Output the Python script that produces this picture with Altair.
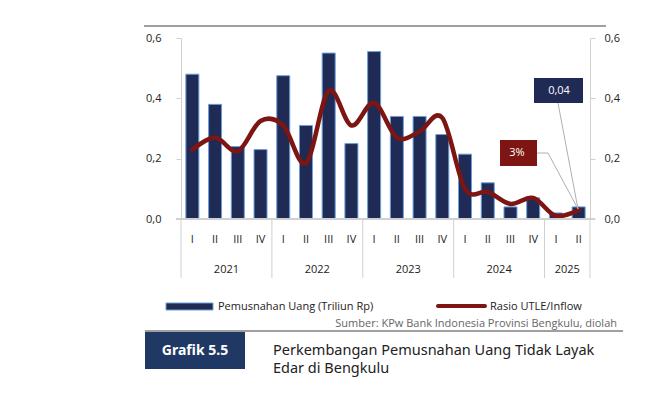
import altair as alt
import pandas as pd

# ---- data ----
years = [2021, 2021, 2021, 2021, 2022, 2022, 2022, 2022, 2023, 2023, 2023, 2023,
         2024, 2024, 2024, 2024, 2025, 2025]
quarters = ["I", "II", "III", "IV", "I", "II", "III", "IV", "I", "II", "III", "IV",
            "I", "II", "III", "IV", "I", "II"]
pemusnahan = [0.48, 0.38, 0.24, 0.23, 0.475, 0.31, 0.55, 0.25, 0.555, 0.34, 0.34, 0.28,
              0.215, 0.12, 0.04, 0.07, 0.02, 0.04]
rasio = [0.23, 0.27, 0.225, 0.325, 0.31, 0.185, 0.425, 0.31, 0.385, 0.27, 0.29, 0.335,
         0.10, 0.09, 0.05, 0.07, 0.01, 0.03]
y_ticks = [0, 0.2, 0.4, 0.6]

cats = [f"{y}-{q}" for y, q in zip(years, quarters)]
df = pd.DataFrame({"cat": cats, "year": years, "q": quarters,
                   "pemusnahan": pemusnahan, "rasio": rasio})

uyears = sorted(set(years))
year_rows, sep_rows = [], []
for yr in uyears:
    idx = [i for i, y in enumerate(years) if y == yr]
    year_rows.append({"cat": cats[idx[len(idx) // 2]], "label": str(yr)})
    sep_rows.append({"cat": cats[idx[0]]})
ydf = pd.DataFrame(year_rows)
sdf = pd.DataFrame(sep_rows)
edf = pd.DataFrame({"cat": [cats[-1]]})

W, H = 409, 181
NAVY = "#1f2a55"
RED = "#7d1512"
GRAY = "#d0d0d0"
FONT = "Open Sans"

xscale = alt.Scale(domain=cats, paddingInner=0, paddingOuter=0)
X = alt.X("cat:N", scale=xscale, axis=None)

label_expr = "replace(format(datum.value, '.1f'), '.', ',')"

base = alt.Chart(df)

bars = base.mark_bar(size=13, color=NAVY, stroke="#6a9fdc", strokeWidth=1).encode(
    x=X,
    y=alt.Y("pemusnahan:Q", scale=alt.Scale(domain=[0, 0.6], nice=False),
            axis=alt.Axis(orient="left", values=y_ticks, labelExpr=label_expr, grid=False,
                          domainColor=GRAY, tickColor=GRAY, tickSize=5, labelPadding=15,
                          labelFont=FONT, labelFontSize=11, labelColor="#222", title=None)),
)

line = base.mark_line(color=RED, strokeWidth=4.5, interpolate="cardinal", strokeCap="round").encode(
    x=X,
    y=alt.Y("rasio:Q", scale=alt.Scale(domain=[0, 0.6], nice=False),
            axis=alt.Axis(orient="right", values=y_ticks, labelExpr=label_expr, grid=False,
                          domainColor=GRAY, tickColor=GRAY, tickSize=5, labelPadding=9,
                          labelFont=FONT, labelFontSize=11, labelColor="#222", title=None)),
)

baseline = alt.Chart(df).mark_rule(color=GRAY, strokeWidth=1).encode(
    x=alt.value(-5), x2=alt.value(W + 5), y=alt.value(H))

seps = alt.Chart(sdf).mark_rule(color=GRAY, strokeWidth=1).encode(
    x=alt.X("cat:N", scale=xscale, axis=None, bandPosition=0),
    y=alt.value(H), y2=alt.value(240))
end_sep = alt.Chart(edf).mark_rule(color=GRAY, strokeWidth=1).encode(
    x=alt.X("cat:N", scale=xscale, axis=None, bandPosition=1),
    y=alt.value(H), y2=alt.value(240))

qlabels = base.mark_text(font=FONT, fontSize=11, color="#222", baseline="middle").encode(
    x=X, y=alt.value(202), text="q:N")

ylabels = alt.Chart(ydf).mark_text(font=FONT, fontSize=11, color="#222", baseline="middle").encode(
    x=alt.X("cat:N", scale=xscale, axis=None, bandPosition=0),
    y=alt.value(232), text="label:N")

one = pd.DataFrame({"a": [0]})


def rect(x, x2, y, y2, fill, **kw):
    return alt.Chart(one).mark_rect(color=fill, **kw).encode(
        x=alt.value(x), x2=alt.value(x2), y=alt.value(y), y2=alt.value(y2))


def rule(x, y, x2, y2, color, width=1, **kw):
    return alt.Chart(one).mark_rule(color=color, strokeWidth=width, **kw).encode(
        x=alt.value(x), x2=alt.value(x2), y=alt.value(y), y2=alt.value(y2))


def text(t, x, y, size=11, color="#222", align="left", baseline="middle", weight="normal", font=FONT, **kw):
    return alt.Chart(one).mark_text(text=t, font=font, fontSize=size, color=color, align=align,
                                    baseline=baseline, fontWeight=weight, **kw).encode(
        x=alt.value(x), y=alt.value(y))


LEAD = "#b0b0b0"
annot = [
    # 0,04 box
    rule(377, 65, 397, 171, LEAD),
    rect(353, 402, 40, 65, NAVY),
    text("0,04", 378, 53, size=11, color="white", align="center"),
    # 3% box
    rule(356, 115, 367, 115, LEAD),
    rule(367, 115, 397, 171, LEAD),
    rect(319, 356, 102, 128, RED),
    text("3%", 336, 115, size=11, color="white", align="center"),
]

deco = [
    rule(-37, -12, 425, -12, "#808080", width=1.5),
    # legend
    rect(-15, 32, 265, 272, NAVY, stroke="#6a9fdc", strokeWidth=1),
    text("Pemusnahan Uang (Triliun Rp)", 37, 268.5),
    rule(257, 268, 304, 268, RED, width=4, strokeCap="round"),
    text("Rasio UTLE/Inflow", 309, 268.5),
    # source
    text("Sumber: KPw Bank Indonesia Provinsi Bengkulu, diolah", 436, 285.5, color="#666", align="right"),
    rule(-36, 293, 442, 293, "#808080", width=1.5),
    # grafik box
    rect(-36, 64, 294, 331, "#1f3864"),
    text("Grafik 5.5", 14, 312.5, size=14, color="white", align="center", weight="bold", font="Noto Sans"),
    text("Perkembangan Pemusnahan Uang Tidak Layak", 92, 317, size=14.5,
         baseline="alphabetic", font="Noto Sans"),
    text("Edar di Bengkulu", 92, 335, size=14.5, baseline="alphabetic", font="Noto Sans"),
]

chart = alt.layer(
    bars, line, baseline, seps, end_sep, qlabels, ylabels, *annot, *deco
).resolve_scale(y="independent").properties(
    width=W, height=H,
    autosize=alt.AutoSizeParams(type="none"),
    padding={"left": 173, "top": 30, "right": 70, "bottom": 160},
).configure_view(stroke=None)

chart.save("out.html", embed_options={"renderer": "svg", "actions": False})
